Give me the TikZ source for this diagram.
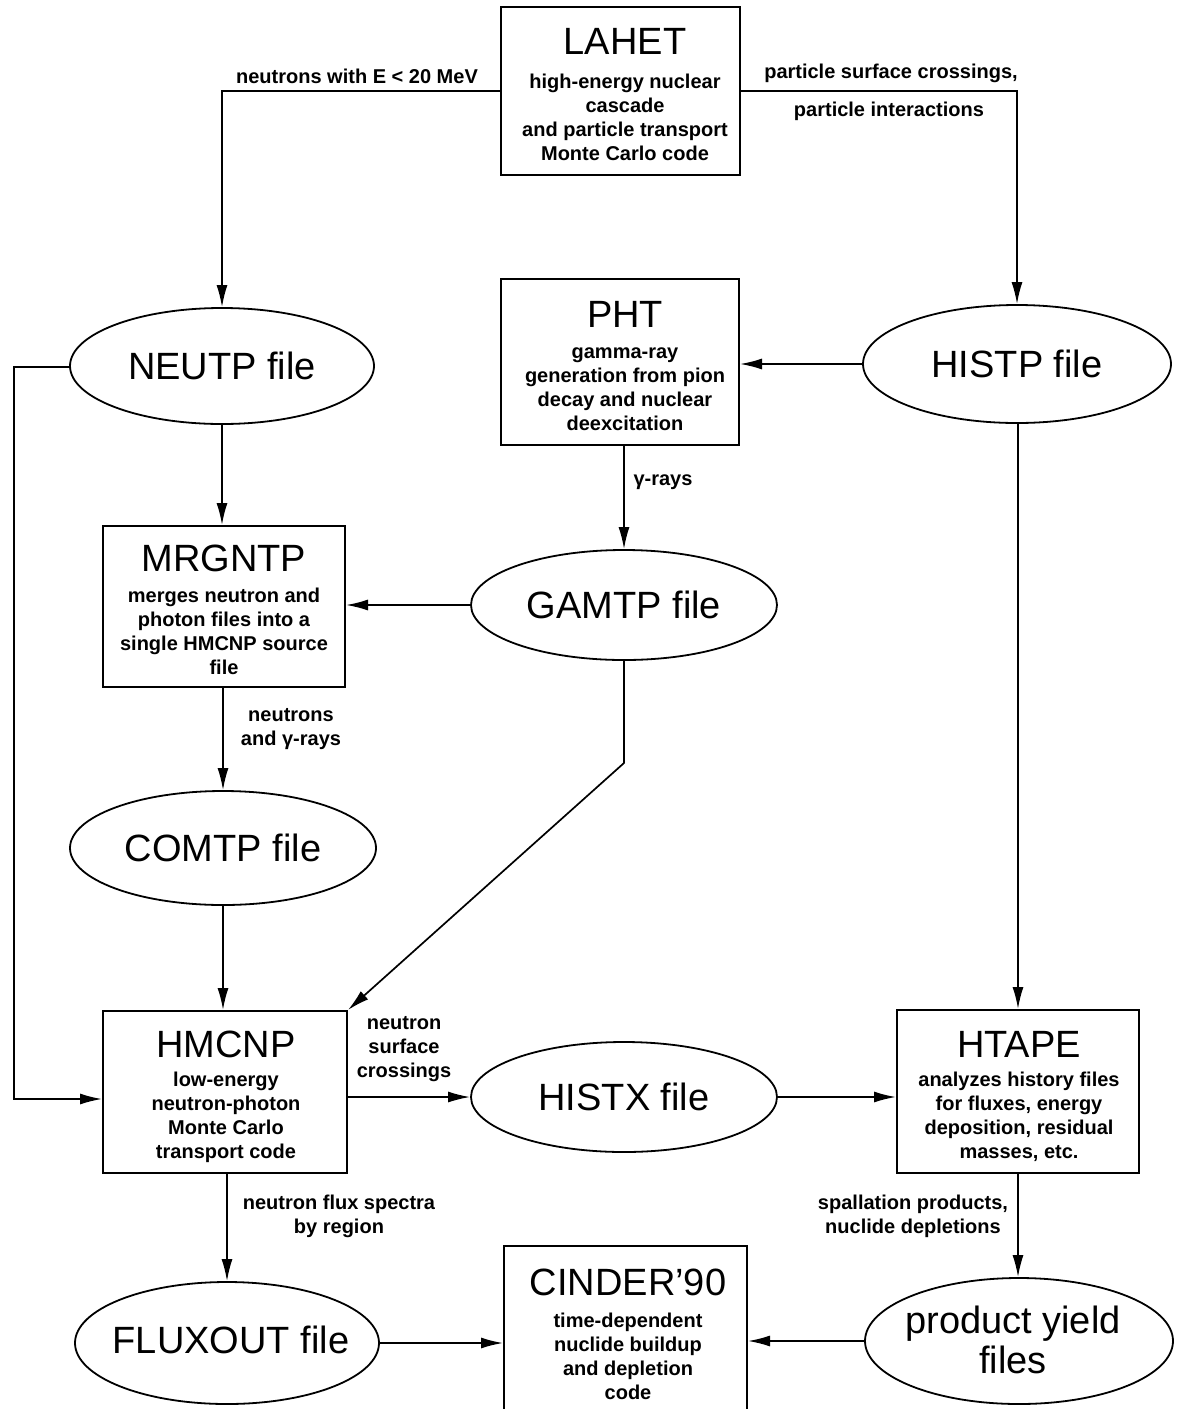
\documentclass[tikz,border=0pt]{standalone}
\usepackage{fontspec}
\setmainfont{Liberation Sans}
\usetikzlibrary{shapes.geometric,arrows.meta}
\newcommand\mytitle{\fontsize{38}{40}\selectfont}
\newcommand\mysub{\fontsize{20}{24}\selectfont\bfseries}
\tikzset{
 box/.style={draw, line width=2pt, inner sep=0pt},
 file/.style={draw, ellipse, line width=1.8pt, inner sep=0pt, align=center, font=\mytitle},
 ttl/.style={inner sep=0pt, font=\mytitle},
 sub/.style={inner sep=0pt, align=center, font=\mysub},
 lab/.style={inner sep=0pt, align=center, font=\mysub},
 arr/.style={line width=1.7pt, -{Latex[length=22pt,width=11pt]}},
}
\begin{document}
\begin{tikzpicture}[x=1pt,y=-1pt]
\useasboundingbox (0,0) rectangle (1176,1409);
\clip (0,0) rectangle (1176,1409);
% boxes
\node[box, minimum width=239pt, minimum height=168pt] (lahet) at (620.5,91) {};
\node[ttl] (lahett) at (625,41) {LAHET};
\node[sub] (lahets) at (625,117) {high-energy nuclear\\cascade\\and particle transport\\Monte Carlo code};

\node[box, minimum width=238pt, minimum height=166pt] (pht) at (620,362) {};
\node[ttl] (phtt) at (625,314) {PHT};
\node[sub] (phts) at (625,389) {gamma-ray\\generation from pion\\decay and nuclear\\deexcitation};

\node[box, minimum width=242pt, minimum height=161pt] (mrg) at (224,606.5) {};
\node[ttl] (mrgt) at (224,558) {MRGNTP};
\node[sub] (mrgs) at (224,631) {merges neutron and\\photon files into a\\single HMCNP source\\file};

\node[box, minimum width=244pt, minimum height=162pt] (hmcnp) at (225,1092) {};
\node[ttl] (hmcnpt) at (226,1044) {HMCNP};
\node[sub] (hmcnps) at (226,1117) {low-energy\\neutron-photon\\Monte Carlo\\transport code};

\node[box, minimum width=242pt, minimum height=163pt] (htape) at (1018,1091.5) {};
\node[ttl] (htapet) at (1019,1044) {HTAPE};
\node[sub] (htapes) at (1019,1117) {analyzes history files\\for fluxes, energy\\deposition, residual\\masses, etc.};

\node[box, minimum width=243pt, minimum height=190pt] (cinder) at (625.5,1341) {};
\node[ttl] (cindert) at (628,1282) {CINDER'90};
\node[sub] (cinders) at (628,1356) {time-dependent\\nuclide buildup\\and depletion\\code};

% files
\node[file, minimum width=304pt, minimum height=116pt] (neutp) at (222,366) {NEUTP file};
\node[file, minimum width=308pt, minimum height=118pt] (histp) at (1017,364) {HISTP file};
\node[file, minimum width=306pt, minimum height=110pt] (gamtp) at (624,605) {GAMTP file};
\node[file, minimum width=306pt, minimum height=114pt] (comtp) at (223,848) {COMTP file};
\node[file, minimum width=306pt, minimum height=110pt] (histx) at (624,1097) {HISTX file};
\node[file, minimum width=304pt, minimum height=122pt] (flux) at (227,1343) {};
\node[ttl] (fluxt) at (231,1340) {FLUXOUT file};
\node[file, minimum width=308pt, minimum height=126pt] (pyield) at (1019,1341) {};
\node[ttl, align=center] (pyieldt) at (1013,1340) {product yield\\files};

% connectors
\draw[arr] (lahet.west) -| (neutp.north);
\draw[arr] (lahet.east) -| (histp.north);
\draw[arr] (histp.west) -- (histp.west -| pht.east);
\draw[arr] (gamtp.north |- pht.south) -- (gamtp.north);
\draw[arr] (gamtp.west) -- (gamtp.west -| mrg.east);
\draw[arr] (neutp.south) -- (neutp.south |- mrg.north);
\draw[arr] (comtp.north |- mrg.south) -- (comtp.north);
\draw[arr] (comtp.south) -- (comtp.south |- hmcnp.north);
\coordinate (l1) at (14,367);
\coordinate (l2) at (14,1099);
\draw[arr] (neutp.west |- l1) -- (l1) -- (l2) -- (l2 -| hmcnp.west);
\coordinate (bend) at (624,763);
\draw[arr] (gamtp.south) -- (bend) -- (hmcnp.north east);
\draw[arr] (hmcnp.east |- histx.west) -- (histx.west);
\draw[arr] (histx.east) -- (histx.east -| htape.west);
\draw[arr] (htape.north |- histp.south) -- (htape.north);
\draw[arr] (flux.north |- hmcnp.south) -- (flux.north);
\draw[arr] (htape.south) -- (htape.south |- pyield.north);
\draw[arr] (flux.east) -- (flux.east -| cinder.west);
\draw[arr] (pyield.west) -- (pyield.west -| cinder.east);

% labels
\node[lab] (l_neut) at (357,76) {neutrons with E < 20 MeV};
\node[lab] (l_psc) at (891,73) {particle surface crossings,};
\node[lab] (l_pi) at (889,111) {particle interactions};
\node[lab] (l_g) at (663,482) {γ-rays};
\node[lab] (l_ng) at (291,729) {neutrons\\and γ-rays};
\node[lab] (l_nsc) at (404,1049) {neutron\\surface\\crossings};
\node[lab] (l_nfs) at (339,1216) {neutron flux spectra\\by region};
\node[lab] (l_sp) at (913,1216) {spallation products,\\nuclide depletions};
\end{tikzpicture}
\end{document}
